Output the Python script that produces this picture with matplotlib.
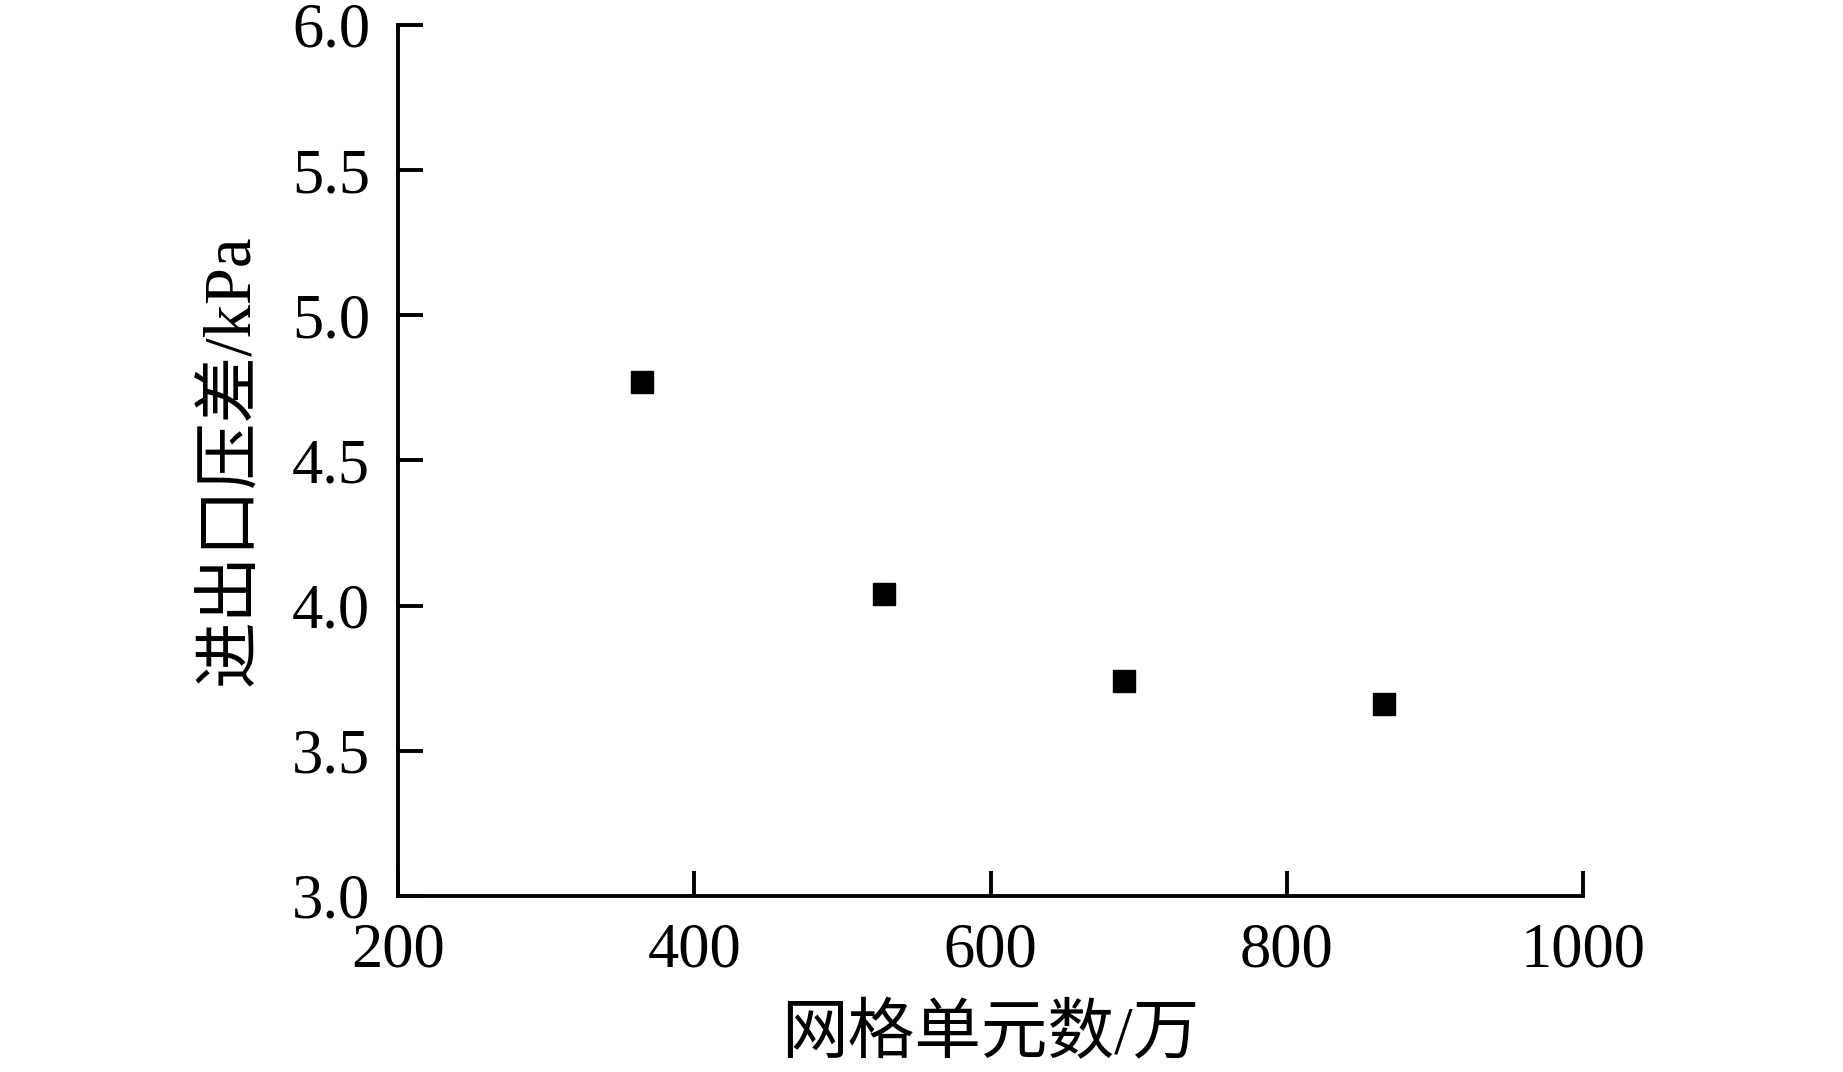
import matplotlib
matplotlib.use('Agg')
import matplotlib.pyplot as plt

# 网格无关性验证: 网格数 vs 进出口压差
plt.rcParams['font.family'] = ['Liberation Serif', 'Noto Sans CJK SC']
plt.rcParams['mathtext.fontset'] = 'stix'

grid_cells = [365, 528, 690, 866]      # 万
pressure_drop = [4.77, 4.04, 3.74, 3.66]  # kPa

x_ticks = [200, 400, 600, 800, 1000]
y_ticks = [3.0, 3.5, 4.0, 4.5, 5.0, 5.5, 6.0]

fig = plt.figure(figsize=(18.43, 10.72), dpi=100)
ax = fig.add_axes([0.2160, 0.1642, 0.6429, 0.8125])

ax.plot(grid_cells, pressure_drop, linestyle='none', marker='s',
        markersize=16, color='black')

ax.set_xlim(200, 1000)
ax.set_ylim(3.0, 6.0)
ax.set_xticks(x_ticks)
ax.set_yticks(y_ticks)
ax.set_yticklabels([f'{v:.1f}' for v in y_ticks])

for side in ['top', 'right']:
    ax.spines[side].set_visible(False)
for side in ['left', 'bottom']:
    ax.spines[side].set_linewidth(2.8)

ax.tick_params(axis='both', direction='in', length=18, width=2.8,
               labelsize=45, pad=19)
ax.tick_params(axis='y', pad=20)

ax.set_xlabel('网格单元数/万', fontsize=48, labelpad=18)
ax.set_ylabel('进出口压差/kPa', fontsize=48, labelpad=22)

plt.savefig('out.png', dpi=100)
plt.close()
